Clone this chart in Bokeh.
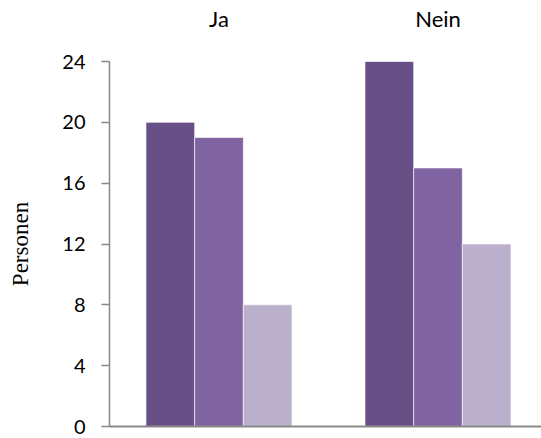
import numpy as np
from bokeh.plotting import figure
from bokeh.models import Range1d, LinearAxis, FixedTicker
from bokeh.embed import file_html
from bokeh.resources import INLINE

categories = ["Ja", "Nein"]
series_a = [20, 24]
series_b = [19, 17]
series_c = [8, 12]
y_ticks = [0, 4, 8, 12, 16, 20, 24]

colors = ["#685087", "#8064A2", "#BBB0CC"]
series = [series_a, series_b, series_c]
bar_w = 0.2222
offsets = [-bar_w, 0.0, bar_w]

p = figure(width=541, height=438, output_backend="svg", toolbar_location=None,
           x_range=Range1d(0, 432 / 219), y_range=Range1d(0, 24),
           min_border_left=109, min_border_right=0, min_border_top=61, min_border_bottom=12,
           x_axis_location=None)
p.outline_line_color = None
p.xgrid.visible = False
p.ygrid.visible = False
p.background_fill_color = "white"

centers = np.arange(len(categories)) + 0.5
for vals, col, off in zip(series, colors, offsets):
    p.vbar(x=centers + off, top=vals, width=bar_w, bottom=0,
           fill_color=col, line_color="white", line_width=0.6)

# left axis
ya = p.yaxis[0]
ya.ticker = FixedTicker(ticks=y_ticks)
ya.axis_line_color = "#898989"
ya.axis_line_width = 1.5
ya.major_tick_line_color = "#898989"
ya.major_tick_line_width = 1.5
ya.major_tick_out = 8
ya.major_tick_in = 0
ya.minor_tick_line_color = None
ya.major_label_standoff = 16
ya.major_label_text_font = "Lato"
ya.major_label_text_font_size = "20px"
ya.major_label_text_color = "black"
ya.axis_label = "Personen"
ya.axis_label_text_font = "Liberation Serif"
ya.axis_label_text_font_size = "23px"
ya.axis_label_text_font_style = "normal"
ya.axis_label_text_color = "black"
ya.axis_label_standoff = 26

# bottom axis (line only)
xb = LinearAxis(ticker=FixedTicker(ticks=[]), axis_line_color="#898989", axis_line_width=2,
                major_tick_line_color=None, minor_tick_line_color=None,
                major_label_text_font_size="0px", major_label_standoff=0,
                major_tick_out=0, major_tick_in=0)
p.add_layout(xb, "below")

# top category labels
xt = LinearAxis(ticker=FixedTicker(ticks=list(centers)),
                major_label_overrides={float(c): lab for c, lab in zip(centers, categories)},
                axis_line_color=None, major_tick_line_color=None, minor_tick_line_color=None,
                major_tick_out=0, major_tick_in=0,
                major_label_standoff=30, major_label_text_font="Lato",
                major_label_text_font_size="22px", major_label_text_color="black")
p.add_layout(xt, "above")

open("out.html", "w").write(file_html(p, INLINE))
